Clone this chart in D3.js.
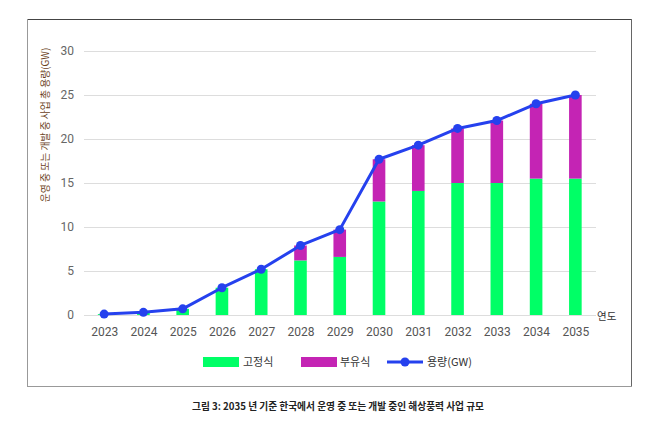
<!DOCTYPE html>
<html><head><meta charset="utf-8">
<script src="https://cdn.jsdelivr.net/npm/d3@7"></script>
<style>body{margin:0;background:#fff;} svg{display:block;font-family:"Noto Sans CJK KR","Noto Sans",sans-serif;}</style>
</head><body>
<svg id="c" width="670" height="434"></svg>
<script>
const years = ["2023","2024","2025","2026","2027","2028","2029","2030","2031","2032","2033","2034","2035"];
const fixed = [0.1,0.3,0.7,3.1,5.2,6.2,6.6,12.9,14.1,15.0,15.0,15.5,15.5];
const floating = [0,0,0,0,0,1.7,3.1,4.8,5.2,6.2,7.1,8.5,9.5];
const capacity = [0.1,0.3,0.7,3.1,5.2,7.9,9.7,17.7,19.3,21.2,22.1,24.0,25.0];
const yTicks = [0,5,10,15,20,25,30];
const seriesNames = ["고정식","부유식","용량(GW)"];
const colors = ["#00ff66","#c424b4","#2541ee"];

const svg = d3.select("#c");
const x = d3.scalePoint().domain(years).range([84.5,595]).padding(0.5);
const y = d3.scaleLinear().domain([0,30]).range([315,51]);
const bw = 12.6;

// frame
svg.append("line").attr("x1",27).attr("x2",632).attr("y1",19.5).attr("y2",19.5).attr("stroke","#444").attr("stroke-width",1);
svg.append("line").attr("x1",631.5).attr("x2",631.5).attr("y1",19).attr("y2",387).attr("stroke","#666");
svg.append("line").attr("x1",27.5).attr("x2",27.5).attr("y1",19).attr("y2",387).attr("stroke","#999");
svg.append("line").attr("x1",27).attr("x2",632).attr("y1",386.5).attr("y2",386.5).attr("stroke","#999");

// grid
const yAxis = d3.axisLeft(y).tickValues(yTicks).tickSize(-(596-84)).tickPadding(10);
const gy = svg.append("g").attr("transform","translate(84,0)").call(yAxis);
gy.select(".domain").remove();
gy.selectAll(".tick line").attr("stroke","#ddd");
gy.selectAll(".tick text").attr("fill","#666").attr("font-size","12px").attr("font-family","Roboto, 'Noto Sans', sans-serif");

const xAxis = d3.axisBottom(x).tickSize(0).tickPadding(12);
const gx = svg.append("g").attr("transform","translate(0,315)").call(xAxis);
gx.select(".domain").remove();
gx.selectAll(".tick text").attr("fill","#555").attr("font-size","12px").attr("font-family","Roboto, 'Noto Sans', sans-serif");

// bars
svg.append("g").selectAll("rect").data(years).join("rect")
  .attr("x",d=>x(d)-bw/2).attr("width",bw)
  .attr("y",(d,i)=>y(fixed[i])).attr("height",(d,i)=>y(0)-y(fixed[i]))
  .attr("fill",colors[0]);
svg.append("g").selectAll("rect").data(years).join("rect")
  .attr("x",d=>x(d)-bw/2).attr("width",bw)
  .attr("y",(d,i)=>y(fixed[i]+floating[i])).attr("height",(d,i)=>y(fixed[i])-y(fixed[i]+floating[i]))
  .attr("fill",colors[1]);

// line
const line = d3.line().x((d,i)=>x(years[i])).y(d=>y(d));
svg.append("path").datum(capacity).attr("d",line).attr("fill","none").attr("stroke",colors[2]).attr("stroke-width",3).attr("stroke-linejoin","round");
svg.append("g").selectAll("circle").data(capacity).join("circle")
  .attr("cx",(d,i)=>x(years[i])).attr("cy",d=>y(d)).attr("r",4.5).attr("fill",colors[2]);

// axis titles
svg.append("text").attr("transform","translate(49,125) rotate(-90)").attr("text-anchor","middle")
  .attr("font-size","9.8px").attr("fill","#6b3f1c").text("운영 중 또는 개발 중 사업 총 용량(GW)");
svg.append("text").attr("x",597).attr("y",320).attr("font-size","10.5px").attr("fill","#333").text("연도");

// legend
const lg = svg.append("g");
lg.append("rect").attr("x",203).attr("y",357).attr("width",36).attr("height",10).attr("fill",colors[0]);
lg.append("text").attr("x",243).attr("y",366).attr("font-size","11px").attr("fill","#333").text(seriesNames[0]);
lg.append("rect").attr("x",301).attr("y",357).attr("width",36).attr("height",10).attr("fill",colors[1]);
lg.append("text").attr("x",340).attr("y",366).attr("font-size","11px").attr("fill","#333").text(seriesNames[1]);
lg.append("line").attr("x1",387).attr("x2",423).attr("y1",362).attr("y2",362).attr("stroke",colors[2]).attr("stroke-width",3);
lg.append("circle").attr("cx",405).attr("cy",362).attr("r",4.5).attr("fill",colors[2]);
lg.append("text").attr("x",427).attr("y",366).attr("font-size","11px").attr("fill","#333").text(seriesNames[2]);

// caption
svg.append("text").attr("x",192).attr("y",410).attr("font-size","9.7px").attr("font-weight","bold").attr("fill","#222")
  .text("그림 3: 2035 년 기준 한국에서 운영 중 또는 개발 중인 해상풍력 사업 규모");
</script>
</body></html>
